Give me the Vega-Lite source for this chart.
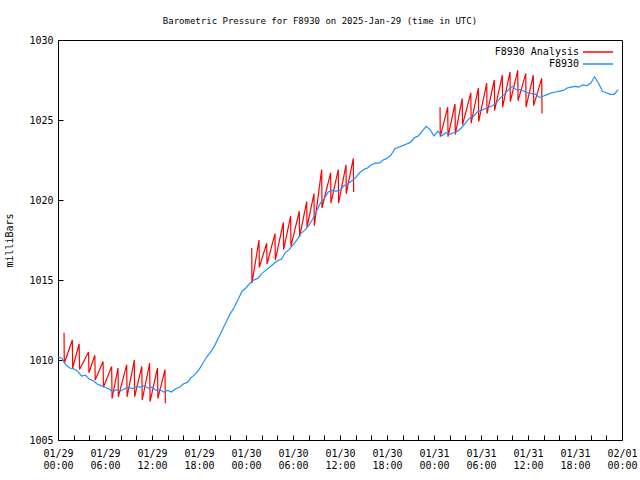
{
  "$schema": "https://vega.github.io/schema/vega-lite/v6.json",
  "width": 564,
  "height": 400,
  "autosize": {"type": "none"},
  "padding": {"left": 58, "top": 40, "right": 18, "bottom": 40},
  "background": "#ffffff",
  "title": {"text": "Barometric Pressure for F8930 on 2025-Jan-29 (time in UTC)", "fontSize": 9, "fontWeight": "normal", "font": "DejaVu Sans Mono", "color": "#000000", "offset": 9, "anchor": "middle", "dx": -20},
  "config": {
    "font": "DejaVu Sans Mono",
    "view": {"stroke": "#000000", "strokeWidth": 1},
    "axis": {"grid": false, "domain": false, "tickColor": "#000000", "labelColor": "#000000", "titleColor": "#000000", "labelFontSize": 10, "titleFontSize": 10, "titleFontWeight": "normal", "labelFont": "DejaVu Sans Mono", "titleFont": "DejaVu Sans Mono"}
  },
  "datasets": {
    "obs": [
      {"h":0,"p":1010.2},{"h":0.5,"p":1010.1},{"h":1,"p":1009.7},{"h":1.5,"p":1009.5},{"h":2,"p":1009.45},{"h":2.5,"p":1009.3},{"h":3,"p":1009.0},{"h":3.5,"p":1009.05},
      {"h":4,"p":1008.8},{"h":4.5,"p":1008.7},{"h":5,"p":1008.5},{"h":5.5,"p":1008.4},{"h":6,"p":1008.3},{"h":6.5,"p":1008.2},{"h":7,"p":1008.0},{"h":7.5,"p":1008.15},
      {"h":8,"p":1008.05},{"h":8.5,"p":1008.2},{"h":9,"p":1008.3},{"h":9.5,"p":1008.2},{"h":10,"p":1008.35},{"h":10.5,"p":1008.3},{"h":11,"p":1008.4},{"h":11.5,"p":1008.25},
      {"h":12,"p":1008.3},{"h":12.5,"p":1008.1},{"h":13,"p":1008.15},{"h":13.5,"p":1008.0},{"h":14,"p":1008.1},{"h":14.5,"p":1008.0},{"h":15,"p":1008.2},{"h":15.5,"p":1008.3},
      {"h":16,"p":1008.5},{"h":16.5,"p":1008.6},{"h":17,"p":1008.9},{"h":17.5,"p":1009.1},{"h":18,"p":1009.4},{"h":18.5,"p":1009.8},{"h":19,"p":1010.2},{"h":19.5,"p":1010.5},
      {"h":20,"p":1010.9},{"h":20.5,"p":1011.4},{"h":21,"p":1011.9},{"h":21.5,"p":1012.4},{"h":22,"p":1012.9},{"h":22.5,"p":1013.3},{"h":23,"p":1013.8},{"h":23.5,"p":1014.3},
      {"h":24,"p":1014.5},{"h":24.5,"p":1014.8},{"h":25,"p":1015.0},{"h":25.5,"p":1015.1},{"h":26,"p":1015.4},{"h":26.5,"p":1015.6},{"h":27,"p":1015.8},{"h":27.5,"p":1016.0},
      {"h":28,"p":1016.2},{"h":28.5,"p":1016.3},{"h":29,"p":1016.7},{"h":29.5,"p":1016.9},{"h":30,"p":1017.2},{"h":30.5,"p":1017.5},{"h":31,"p":1017.9},{"h":31.5,"p":1018.1},
      {"h":32,"p":1018.4},{"h":32.5,"p":1018.8},{"h":33,"p":1019.3},{"h":33.5,"p":1019.8},{"h":34,"p":1020.1},{"h":34.5,"p":1020.5},{"h":35,"p":1020.6},{"h":35.5,"p":1020.55},
      {"h":36,"p":1020.6},{"h":36.5,"p":1020.9},{"h":37,"p":1021.0},{"h":37.5,"p":1021.2},{"h":38,"p":1021.4},{"h":38.5,"p":1021.7},{"h":39,"p":1021.9},{"h":39.5,"p":1022.0},
      {"h":40,"p":1022.2},{"h":40.5,"p":1022.3},{"h":41,"p":1022.3},{"h":41.5,"p":1022.5},{"h":42,"p":1022.6},{"h":42.5,"p":1022.8},{"h":43,"p":1023.2},{"h":43.5,"p":1023.3},
      {"h":44,"p":1023.4},{"h":44.5,"p":1023.5},{"h":45,"p":1023.6},{"h":45.5,"p":1023.9},{"h":46,"p":1024.0},{"h":46.5,"p":1024.3},{"h":47,"p":1024.6},{"h":47.5,"p":1024.4},
      {"h":48,"p":1024.0},{"h":48.5,"p":1024.3},{"h":49,"p":1024.0},{"h":49.5,"p":1024.2},{"h":50,"p":1024.1},{"h":50.5,"p":1024.2},{"h":51,"p":1024.3},{"h":51.5,"p":1024.5},
      {"h":52,"p":1024.8},{"h":52.5,"p":1025.1},{"h":53,"p":1025.2},{"h":53.5,"p":1025.5},{"h":54,"p":1025.6},{"h":54.5,"p":1025.7},{"h":55,"p":1025.8},{"h":55.5,"p":1025.9},
      {"h":56,"p":1026.1},{"h":56.5,"p":1026.4},{"h":57,"p":1026.6},{"h":57.5,"p":1026.9},{"h":58,"p":1027.1},{"h":58.5,"p":1026.9},{"h":59,"p":1026.9},{"h":59.5,"p":1026.8},
      {"h":60,"p":1026.7},{"h":60.5,"p":1026.65},{"h":61,"p":1026.6},{"h":61.5,"p":1026.4},{"h":62,"p":1026.5},{"h":62.5,"p":1026.6},{"h":63,"p":1026.7},{"h":63.5,"p":1026.75},
      {"h":64,"p":1026.8},{"h":64.5,"p":1026.85},{"h":65,"p":1027.0},{"h":65.5,"p":1027.05},{"h":66,"p":1027.1},{"h":66.5,"p":1027.05},{"h":67,"p":1027.2},{"h":67.5,"p":1027.15},
      {"h":68,"p":1027.3},{"h":68.5,"p":1027.7},{"h":69,"p":1027.3},{"h":69.5,"p":1026.8},{"h":70,"p":1026.7},{"h":70.5,"p":1026.6},{"h":71,"p":1026.6},{"h":71.5,"p":1026.9}
    ],
    "ana": [
      {"seg":1,"h":0.77,"p":1011.7},{"seg":1,"h":0.8,"p":1009.8},{"seg":1,"h":1.83,"p":1011.25},{"seg":1,"h":1.87,"p":1009.5},
      {"seg":1,"h":2.7,"p":1011.0},{"seg":1,"h":2.75,"p":1009.4},{"seg":1,"h":3.9,"p":1010.5},{"seg":1,"h":3.95,"p":1009.2},
      {"seg":1,"h":4.7,"p":1010.3},{"seg":1,"h":4.75,"p":1008.75},{"seg":1,"h":5.75,"p":1009.9},{"seg":1,"h":5.8,"p":1008.3},
      {"seg":1,"h":6.85,"p":1009.6},{"seg":1,"h":6.9,"p":1007.6},{"seg":1,"h":7.66,"p":1009.5},{"seg":1,"h":7.7,"p":1007.7},
      {"seg":1,"h":8.77,"p":1009.7},{"seg":1,"h":8.82,"p":1007.7},{"seg":1,"h":9.74,"p":1010.0},{"seg":1,"h":9.78,"p":1007.7},
      {"seg":1,"h":10.7,"p":1009.6},{"seg":1,"h":10.75,"p":1007.5},{"seg":1,"h":11.7,"p":1009.8},{"seg":1,"h":11.75,"p":1007.4},
      {"seg":1,"h":12.7,"p":1009.5},{"seg":1,"h":12.75,"p":1007.6},{"seg":1,"h":13.66,"p":1009.4},{"seg":1,"h":13.7,"p":1007.3},
      {"seg":2,"h":24.73,"p":1017.0},{"seg":2,"h":24.76,"p":1014.8},{"seg":2,"h":25.66,"p":1017.5},{"seg":2,"h":25.7,"p":1015.8},
      {"seg":2,"h":26.64,"p":1017.3},{"seg":2,"h":26.68,"p":1016.0},{"seg":2,"h":27.7,"p":1017.9},{"seg":2,"h":27.74,"p":1016.25},
      {"seg":2,"h":28.77,"p":1018.6},{"seg":2,"h":28.8,"p":1016.9},{"seg":2,"h":29.7,"p":1019.0},{"seg":2,"h":29.74,"p":1017.1},
      {"seg":2,"h":30.8,"p":1019.3},{"seg":2,"h":30.84,"p":1017.7},{"seg":2,"h":31.75,"p":1019.9},{"seg":2,"h":31.79,"p":1018.3},
      {"seg":2,"h":32.68,"p":1020.4},{"seg":2,"h":32.72,"p":1018.4},{"seg":2,"h":33.66,"p":1021.9},{"seg":2,"h":33.7,"p":1019.5},
      {"seg":2,"h":34.8,"p":1021.7},{"seg":2,"h":34.84,"p":1019.8},{"seg":2,"h":35.78,"p":1021.9},{"seg":2,"h":35.82,"p":1019.8},
      {"seg":2,"h":36.77,"p":1022.2},{"seg":2,"h":36.8,"p":1020.4},{"seg":2,"h":37.7,"p":1022.6},{"seg":2,"h":37.74,"p":1020.5},
      {"seg":3,"h":48.77,"p":1025.8},{"seg":3,"h":48.8,"p":1023.96},{"seg":3,"h":49.75,"p":1025.8},{"seg":3,"h":49.79,"p":1023.96},
      {"seg":3,"h":50.68,"p":1026.0},{"seg":3,"h":50.72,"p":1024.1},{"seg":3,"h":51.6,"p":1026.35},{"seg":3,"h":51.64,"p":1024.7},
      {"seg":3,"h":52.7,"p":1026.7},{"seg":3,"h":52.74,"p":1024.8},{"seg":3,"h":53.66,"p":1027.0},{"seg":3,"h":53.7,"p":1024.9},
      {"seg":3,"h":54.73,"p":1027.3},{"seg":3,"h":54.77,"p":1025.4},{"seg":3,"h":55.7,"p":1027.5},{"seg":3,"h":55.74,"p":1025.6},
      {"seg":3,"h":56.72,"p":1027.8},{"seg":3,"h":56.76,"p":1025.8},{"seg":3,"h":57.7,"p":1028.0},{"seg":3,"h":57.74,"p":1026.15},
      {"seg":3,"h":58.69,"p":1028.1},{"seg":3,"h":58.73,"p":1026.2},{"seg":3,"h":59.71,"p":1027.9},{"seg":3,"h":59.75,"p":1025.8},
      {"seg":3,"h":60.68,"p":1027.8},{"seg":3,"h":60.72,"p":1025.9},{"seg":3,"h":61.75,"p":1027.6},{"seg":3,"h":61.79,"p":1025.4}
    ]
  },
  "encoding": {
    "x": {"field": "h", "type": "quantitative",
      "scale": {"domain": [0, 72], "nice": false, "zero": false},
      "axis": {"title": null, "values": [0,2,4,6,8,10,12,14,16,18,20,22,24,26,28,30,32,34,36,38,40,42,44,46,48,50,52,54,56,58,60,62,64,66,68,70,72],
        "tickSize": -5, "labelPadding": 13, "labelFlush": false, "labelOverlap": false, "labelBound": false, "labelLineHeight": 12,
        "labelExpr": "datum.value % 6 == 0 ? [['01/29','01/30','01/31','02/01'][floor(datum.value / 24)], (datum.value % 24 < 10 ? '0' : '') + (datum.value % 24) + ':00'] : ''"}},
    "y": {"field": "p", "type": "quantitative",
      "scale": {"domain": [1005, 1030], "nice": false, "zero": false},
      "axis": {"title": "milliBars", "format": "d", "values": [1005, 1010, 1015, 1020, 1025, 1030], "tickSize": -5, "labelPadding": 10, "titlePadding": 14}}
  },
  "layer": [
    {"data": {"name": "ana"},
     "transform": [{"calculate": "'F8930 Analysis'", "as": "series"}],
     "mark": {"type": "line", "strokeWidth": 1.2, "interpolate": "linear"},
     "encoding": {"detail": {"field": "seg", "type": "nominal"},
       "color": {"field": "series", "type": "nominal",
         "scale": {"domain": ["F8930 Analysis", "F8930"], "range": ["#ff0000", "#1e90ff"]},
         "legend": {"title": null, "orient": "top-right", "offset": 6, "symbolType": "M-3,0H3", "symbolSize": 100, "symbolStrokeWidth": 1.5, "symbolOpacity": 1, "symbolFillColor": "transparent", "labelAlign": "right", "labelOffset": -25, "labelFontSize": 10, "labelFont": "DejaVu Sans Mono", "labelColor": "#000000", "rowPadding": 1, "padding": 0}}}},
    {"data": {"name": "obs"},
     "transform": [{"calculate": "'F8930'", "as": "series"}],
     "mark": {"type": "line", "strokeWidth": 1.2, "interpolate": "linear"},
     "encoding": {"color": {"field": "series", "type": "nominal"}}}
  ]
}
